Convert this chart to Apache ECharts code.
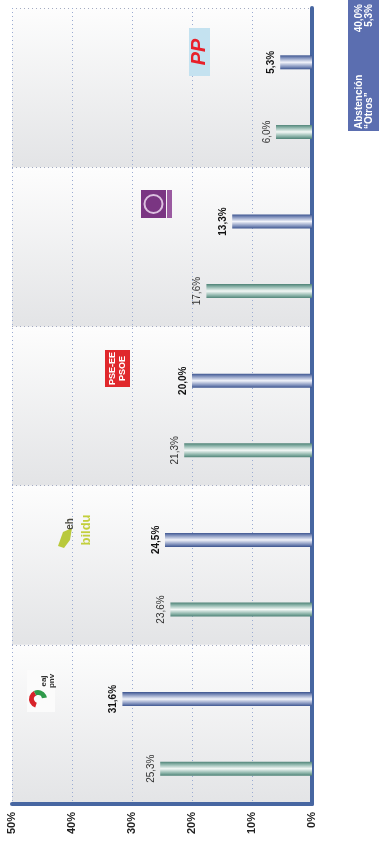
<!DOCTYPE html>
<html>
<head>
<meta charset="utf-8">
<script src="https://cdn.jsdelivr.net/npm/echarts@6/dist/echarts.min.js"></script>
<style>
html,body{margin:0;padding:0;background:#fff;}
#chart{width:380px;height:841px;}
</style>
</head>
<body>
<div id="chart"></div>
<script>
// ---- data ----
var categories = ['PNV', 'EH Bildu', 'PSE-EE', 'Podemos', 'PP'];
var prevValues = [25.3, 23.6, 21.3, 17.6, 6.0];   // teal bars
var currValues = [31.6, 24.5, 20.0, 13.3, 5.3];   // blue bars
var axisTicks = [0, 10, 20, 30, 40, 50];
var boxLabels = ['Abstención', '“Otros”'];
var boxValues = ['40,0%', '5,3%'];

var FONT = 'Liberation Sans, Arial, sans-serif';
var AXIS_BLUE = '#4766a1';
function fmt(v){ return v.toFixed(1).replace('.', ',') + '%'; }
function grad(stops){
  return {type:'linear', x:0, y:0, x2:0, y2:1,
    colorStops: stops.map(function(s){ return {offset:s[0], color:s[1]}; })};
}
var tealGrad = grad([[0,'#4f8377'],[0.2,'#8fb6ac'],[0.5,'#f3f8f6'],[0.8,'#8fb6ac'],[1,'#4f8377']]);
var blueGrad = grad([[0,'#3d5590'],[0.2,'#8797c0'],[0.5,'#f1f3fa'],[0.8,'#8797c0'],[1,'#3d5590']]);
var bandGrad = grad([[0,'#fdfdfd'],[1,'#e3e4e6']]);

var chart = echarts.init(document.getElementById('chart'), null, {renderer:'canvas'});
var R = Math.PI/2;
var option = {
  backgroundColor:'#ffffff',
  animation:false,
  grid:[
    {left:12, right:68, top:8, bottom:37},
    {left:12, right:68, top:17.5, bottom:27.5}
  ],
  xAxis:[
    {gridIndex:0, type:'value', min:axisTicks[0], max:axisTicks[axisTicks.length-1], interval:10, inverse:true,
     axisLine:{show:true, onZero:false, lineStyle:{color:AXIS_BLUE, width:4}},
     axisTick:{show:false},
     axisLabel:{formatter:'{value}%', rotate:90, fontFamily:FONT, fontWeight:'bold', fontSize:11, color:'#222', margin:8},
     splitLine:{show:true, lineStyle:{color:'#9aabd2', type:[1,3], width:1}}},
    {gridIndex:1, type:'value', min:0, max:50, interval:10, inverse:true, show:false}
  ],
  yAxis:[
    {gridIndex:0, type:'category', data:categories, position:'right',
     axisLine:{show:true, onZero:false, lineStyle:{color:AXIS_BLUE, width:4}},
     axisTick:{show:false}, axisLabel:{show:false},
     splitLine:{show:true, lineStyle:{color:'#a4abc2', type:[1,3], width:1}},
     splitArea:{show:true, areaStyle:{color:[bandGrad, bandGrad]}}},
    {gridIndex:1, type:'category', data:categories, show:false}
  ],
  series:[
    {type:'bar', name:'curr', xAxisIndex:1, yAxisIndex:1, data:currValues, barWidth:14, barGap:'397%',
     itemStyle:{color:blueGrad},
     label:{show:true, position:'left', distance:4, rotate:90, align:'center', verticalAlign:'bottom',
       formatter:function(p){return fmt(p.value);}, fontFamily:FONT, fontSize:10, fontWeight:'bold', color:'#111'}},
    {type:'bar', name:'prev', xAxisIndex:1, yAxisIndex:1, data:prevValues, barWidth:14, barGap:'397%',
     itemStyle:{color:tealGrad},
     label:{show:true, position:'left', distance:4, rotate:90, align:'center', verticalAlign:'bottom',
       formatter:function(p){return fmt(p.value);}, fontFamily:FONT, fontSize:10, color:'#333'}}
  ],
  graphic:[
    // summary box
    {type:'rect', shape:{x:348, y:0, width:31, height:131}, style:{fill:'#5b6eb0'}, z:10},
    {type:'text', x:364, y:129, rotation:R, z:11,
     style:{text:boxLabels.join('\n'), align:'left', verticalAlign:'middle', fill:'#fff', font:'bold 10px '+FONT, lineHeight:10}},
    {type:'text', x:364, y:4, rotation:R, z:11,
     style:{text:boxValues.join('\n'), align:'right', verticalAlign:'middle', fill:'#fff', font:'bold 10px '+FONT, lineHeight:10}},
    // PNV logo
    {type:'rect', shape:{x:27, y:670, width:28, height:42}, style:{fill:'#fbfbfb'}, z:10},
    {type:'sector', shape:{cx:38, cy:699, r0:4, r:9, startAngle:Math.PI*0.6, endAngle:Math.PI*1.35}, style:{fill:'#d8232a'}, z:11},
    {type:'sector', shape:{cx:38, cy:699, r0:4, r:9, startAngle:Math.PI*1.35, endAngle:Math.PI*1.95}, style:{fill:'#2f9a4a'}, z:11},
    {type:'text', x:48, y:681, rotation:R, z:11,
     style:{text:'eaj\npnv', align:'center', verticalAlign:'middle', fill:'#333', font:'bold 8px '+FONT, lineHeight:8}},
    // EH Bildu logo
    {type:'polygon', shape:{points:[[58,546],[63,532],[72,528],[70,540],[64,548]]}, style:{fill:'#b9c93c'}, z:11},
    {type:'text', x:70, y:524, rotation:R, z:11,
     style:{text:'eh', align:'center', verticalAlign:'middle', fill:'#4a4a40', font:'bold 10px '+FONT}},
    {type:'text', x:86, y:530, rotation:R, z:11,
     style:{text:'bildu', align:'center', verticalAlign:'middle', fill:'#c3cf3c', font:'bold 13px '+FONT}},
    // PSE-EE PSOE logo
    {type:'rect', shape:{x:105, y:350, width:25, height:37}, style:{fill:'#e0282c'}, z:10},
    {type:'text', x:117.5, y:368.5, rotation:R, z:11,
     style:{text:'PSE-EE\nPSOE', align:'center', verticalAlign:'middle', fill:'#fff', font:'bold 9px '+FONT, lineHeight:10}},
    // Podemos logo
    {type:'rect', shape:{x:141, y:190, width:25, height:28}, style:{fill:'#7a3582'}, z:10},
    {type:'rect', shape:{x:167, y:190, width:5, height:28}, style:{fill:'#9a5aa0'}, z:10},
    {type:'circle', shape:{cx:153.5, cy:204, r:9}, style:{fill:'none', stroke:'#dcc0e0', lineWidth:2}, z:11},
    // PP logo
    {type:'rect', shape:{x:189, y:28, width:21, height:48}, style:{fill:'#c4e2f0'}, z:10},
    {type:'text', x:199.5, y:52, rotation:R, z:11,
     style:{text:'PP', align:'center', verticalAlign:'middle', fill:'#e8202a', font:'italic bold 20px '+FONT}}
  ]
};
chart.setOption(option);
</script>
</body>
</html>
